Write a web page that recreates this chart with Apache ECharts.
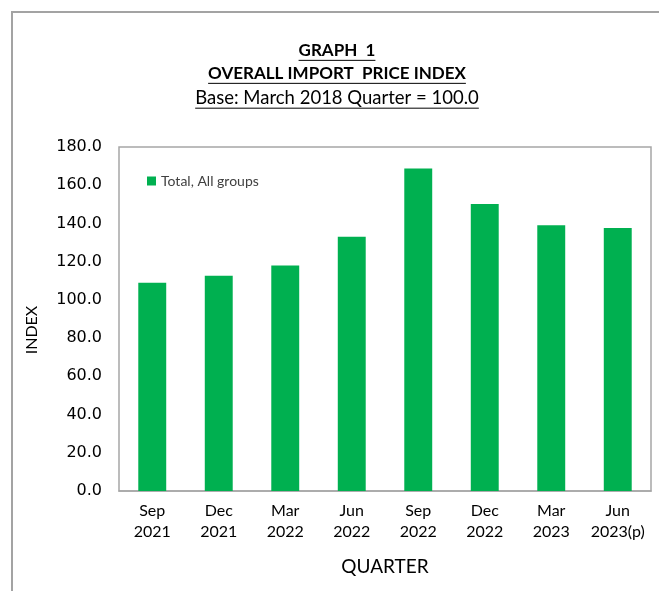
<!DOCTYPE html>
<html>
<head>
<meta charset="utf-8">
<script src="https://cdn.jsdelivr.net/npm/echarts@6/dist/echarts.min.js"></script>
<style>
    html, body { margin: 0; padding: 0; background: #fff; }
    #chart { width: 659px; height: 591px; }
</style>
</head>
<body>
<div id="chart"></div>
<script>
// quarters on the x axis
var quarters = ['Sep\n2021', 'Dec\n2021', 'Mar\n2022', 'Jun\n2022', 'Sep\n2022', 'Dec\n2022', 'Mar\n2023', 'Jun\n2023(p)']
// Total, All groups index values
var totalAllGroups = [109.0, 112.6, 118.0, 133.0, 168.8, 150.2, 139.0, 137.6]
var yTicks = { min: 0, max: 180, interval: 20 }

var font = 'Lato, "Open Sans", sans-serif'
var titleLines = [
    { text: 'GRAPH  1', y: 51, size: 17, weight: 'bold' },
    { text: 'OVERALL IMPORT  PRICE INDEX', y: 74, size: 17, weight: 'bold' },
    { text: 'Base: March 2018 Quarter = 100.0', y: 98, size: 18.5, weight: 'normal' }
]

// measure text so the underlines fit the titles
var ctx = document.createElement('canvas').getContext('2d')
function textWidth(t, size, weight) {
    ctx.font = weight + ' ' + size + 'px ' + font
    return ctx.measureText(t).width
}

var graphics = [
    // outer chart frame
    {
        type: 'rect',
        shape: { x: 12, y: 12, width: 700, height: 700 },
        style: { fill: 'none', stroke: '#a3a3a3', lineWidth: 2 },
        z: -1
    },
    {
        type: 'text',
        x: 32, y: 330,
        rotation: Math.PI / 2,
        style: { text: 'INDEX', fontSize: 16, fontFamily: font, fill: '#000', textAlign: 'center', textVerticalAlign: 'middle' }
    }
]
titleLines.forEach(function (l) {
    var w = textWidth(l.text, l.size, l.weight)
    graphics.push({
        type: 'text',
        x: 337, y: l.y,
        style: { text: l.text, fontSize: l.size, fontWeight: l.weight, fontFamily: font, fill: '#000', textAlign: 'center', textVerticalAlign: 'middle' }
    })
    graphics.push({
        type: 'line',
        shape: { x1: 337 - w / 2, y1: l.y + l.size * 0.55, x2: 337 + w / 2, y2: l.y + l.size * 0.55 },
        style: { stroke: '#000', lineWidth: 1 }
    })
})

var chart = echarts.init(document.getElementById('chart'))

chart.setOption({
    backgroundColor: '#fff',
    animation: false,
    textStyle: { fontFamily: font },
    graphic: graphics,
    legend: {
        left: 142,
        top: 169,
        itemWidth: 9,
        itemHeight: 9,
        itemGap: 6,
        textStyle: { fontSize: 14, color: '#404040', fontFamily: font },
        data: [{ name: 'Total, All groups', icon: 'rect' }]
    },
    grid: {
        left: 119,
        right: 8,
        top: 147,
        bottom: 100,
        show: true,
        borderColor: '#a6a6a6',
        borderWidth: 1.5
    },
    xAxis: {
        type: 'category',
        data: quarters,
        name: 'QUARTER',
        nameLocation: 'middle',
        nameGap: 66,
        nameTextStyle: { fontSize: 19, color: '#000' },
        axisLine: { lineStyle: { color: '#a6a6a6', width: 1.5 } },
        axisTick: { show: false },
        axisLabel: { interval: 0, fontSize: 16, color: '#000', margin: 9, lineHeight: 21 }
    },
    yAxis: {
        type: 'value',
        min: yTicks.min,
        max: yTicks.max,
        interval: yTicks.interval,
        axisLine: { show: false },
        axisTick: { show: false },
        splitLine: { show: false },
        axisLabel: {
            fontSize: 16,
            fontFamily: '"DejaVu Sans", sans-serif',
            color: '#000',
            margin: 17,
            formatter: function (v) { return v.toFixed(1) }
        }
    },
    series: [
        {
            name: 'Total, All groups',
            type: 'bar',
            barWidth: '42%',
            itemStyle: { color: '#00b050' },
            data: totalAllGroups
        }
    ]
})
</script>
</body>
</html>
